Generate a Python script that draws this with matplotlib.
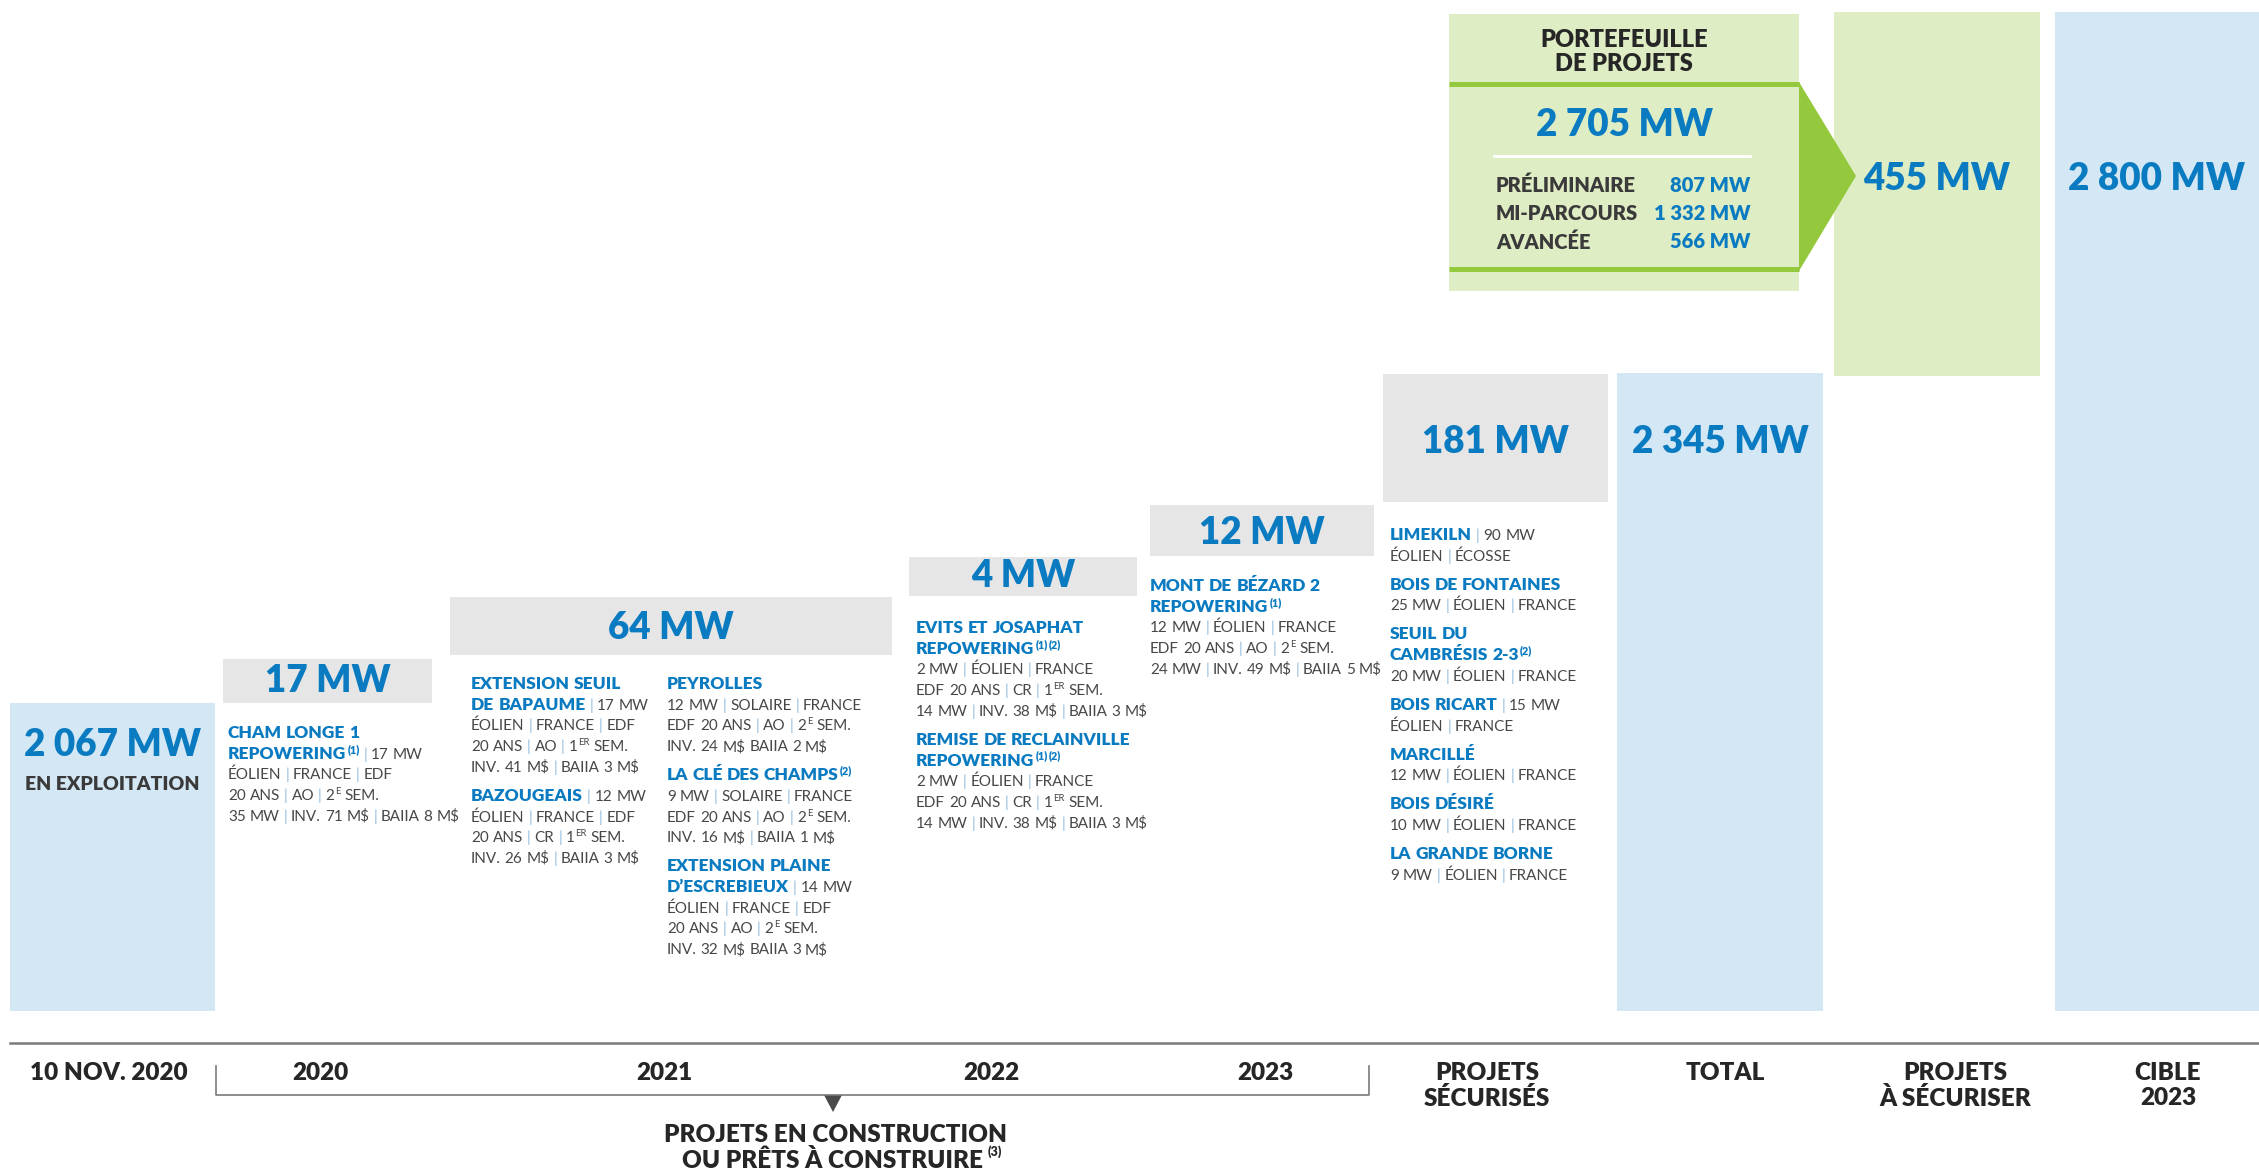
import numpy as np
import matplotlib
matplotlib.use('Agg')
import matplotlib.pyplot as plt
from matplotlib import font_manager
from matplotlib.patches import Rectangle, Polygon

W, H = 2259, 1171

# ---- data ----
timeline = ['10 NOV. 2020', '2020', '2021', '2022', '2023',
            'PROJETS\nSÉCURISÉS', 'TOTAL', 'PROJETS\nÀ SÉCURISER', 'CIBLE\n2023']
in_operation_mw = 2067
construction_mw = [17, 64, 4, 12]          # 2020, 2021, 2022, 2023
secured_mw = 181
to_secure_mw = 455
stages = ['PRÉLIMINAIRE', 'MI-PARCOURS', 'AVANCÉE']
stage_mw = [807, 1332, 566]

total_mw = in_operation_mw + sum(construction_mw) + secured_mw
target_mw = total_mw + to_secure_mw
portfolio_mw = sum(stage_mw)
box_values = [in_operation_mw] + construction_mw + [secured_mw, total_mw, to_secure_mw, target_mw]

# project lists: (blue title part, grey detail part), ^ marks superscript
proj_2020 = [[("CHAM LONGE 1", ""), ("REPOWERING^(1)", "| 17 MW"),
              ("", "ÉOLIEN | FRANCE | EDF"), ("", "20 ANS | AO | 2^E SEM."),
              ("", "35 MW | INV. 71 M$ | BAIIA 8 M$")]]
proj_2021a = [[("EXTENSION SEUIL", ""), ("DE BAPAUME", "| 17 MW"),
               ("", "ÉOLIEN | FRANCE | EDF"), ("", "20 ANS | AO | 1^ER SEM."),
               ("", "INV. 41 M$ | BAIIA 3 M$")],
              [("BAZOUGEAIS", "| 12 MW"), ("", "ÉOLIEN | FRANCE | EDF"),
               ("", "20 ANS | CR | 1^ER SEM."), ("", "INV. 26 M$ | BAIIA 3 M$")]]
proj_2021b = [[("PEYROLLES", ""), ("", "12 MW | SOLAIRE | FRANCE"),
               ("", "EDF 20 ANS | AO | 2^E SEM."), ("", "INV. 24 M$ BAIIA 2 M$")],
              [("LA CLÉ DES CHAMPS^(2)", ""), ("", "9 MW | SOLAIRE | FRANCE"),
               ("", "EDF 20 ANS | AO | 2^E SEM."), ("", "INV. 16 M$ | BAIIA 1 M$")],
              [("EXTENSION PLAINE", ""), ("D’ESCREBIEUX", "| 14 MW"),
               ("", "ÉOLIEN | FRANCE | EDF"), ("", "20 ANS | AO | 2^E SEM."),
               ("", "INV. 32 M$ BAIIA 3 M$")]]
proj_2022 = [[("EVITS ET JOSAPHAT", ""), ("REPOWERING^(1)^(2)", ""),
              ("", "2 MW | ÉOLIEN | FRANCE"), ("", "EDF  20 ANS | CR | 1^ER SEM."),
              ("", "14 MW | INV. 38 M$ | BAIIA 3 M$")],
             [("REMISE DE RECLAINVILLE", ""), ("REPOWERING^(1)^(2)", ""),
              ("", "2 MW | ÉOLIEN | FRANCE"), ("", "EDF  20 ANS | CR | 1^ER SEM."),
              ("", "14 MW | INV. 38 M$ | BAIIA 3 M$")]]
proj_2023 = [[("MONT DE BÉZARD 2", ""), ("REPOWERING^(1)", ""),
              ("", "12 MW | ÉOLIEN | FRANCE"), ("", "EDF 20 ANS | AO | 2^E SEM."),
              ("", "24 MW | INV. 49 M$ | BAIIA 5 M$")]]
proj_secured = [[("LIMEKILN", "| 90 MW"), ("", "ÉOLIEN | ÉCOSSE")],
                [("BOIS DE FONTAINES", ""), ("", "25 MW | ÉOLIEN | FRANCE")],
                [("SEUIL DU", ""), ("CAMBRÉSIS 2-3^(2)", ""), ("", "20 MW | ÉOLIEN | FRANCE")],
                [("BOIS RICART", "| 15 MW"), ("", "ÉOLIEN | FRANCE")],
                [("MARCILLÉ", ""), ("", "12 MW | ÉOLIEN | FRANCE")],
                [("BOIS DÉSIRÉ", ""), ("", "10 MW | ÉOLIEN | FRANCE")],
                [("LA GRANDE BORNE", ""), ("", "9 MW | ÉOLIEN | FRANCE")]]

# ---- layout (pixels) ----
box_x0 = [10, 223, 450, 909, 1150, 1383, 1617, 1834, 2055]
box_x1 = [215, 432, 892, 1137, 1374, 1608, 1823, 2040, 2259]
box_top = [703, 659, 597, 557, 505, 374, 373, 12, 12]
box_bot = [1011, 703, 655, 596, 556, 502, 1011, 376, 1011]
label_y = [745, 681, 628, 576, 533, 442, 442, 179, 179]
label_x = [109, 320, 664, 991, 1265, 1487, 1725, 1955, 2168]

BLUE = '#0A7BC1'
LBLUE = '#D3E7F4'
GBOX = '#E6E6E6'
LGREEN = '#DEEDC3'
GREEN = '#95C93D'
TGREY = '#474747'
DARK = '#262626'
PIPE = '#8DB8DA'
box_colors = [LBLUE, GBOX, GBOX, GBOX, GBOX, GBOX, LBLUE, LGREEN, LBLUE]

avail = {f.name for f in font_manager.fontManager.ttflist}
SANS = 'Lato' if 'Lato' in avail else 'DejaVu Sans'
COND = 'Liberation Sans Narrow' if 'Liberation Sans Narrow' in avail else SANS

fig = plt.figure(figsize=(W / 100, H / 100), dpi=100)
ax = fig.add_axes([0, 0, 1, 1])
ax.set_xlim(0, W)
ax.set_ylim(H, 0)
ax.axis('off')
rend = fig.canvas.get_renderer()

def fmt(v):
    return f"{v:,}".replace(',', ' ') + ' MW'

# value boxes
cx = [(a + b) / 2 for a, b in zip(box_x0, box_x1)]
wd = [b - a for a, b in zip(box_x0, box_x1)]
ht = [b - t for t, b in zip(box_top, box_bot)]
ax.bar(cx, ht, width=wd, bottom=box_top, color=box_colors, linewidth=0)

for i, v in enumerate(box_values):
    ax.text(cx[i], label_y[i], fmt(v), ha='center', va='center', family=SANS,
            weight='heavy', size=26.5, color=BLUE)
ax.text(cx[0], 784, 'EN EXPLOITATION', ha='center', va='center', family=SANS,
        weight='heavy', size=14, color='#3A3A3A')

# portfolio box
px0, px1, pt, pb = 1449, 1799, 14, 291
ax.add_patch(Rectangle((px0, pt), px1 - px0, pb - pt, color=LGREEN, lw=0))
ax.plot([px0, px1], [84, 84], color=GREEN, lw=3.6, solid_capstyle='butt')
ax.plot([px0, px1], [269, 269], color=GREEN, lw=3.6, solid_capstyle='butt')
ax.add_patch(Polygon([(px1, 82), (1856, 176), (px1, 271)], color=GREEN, lw=0))
pcx = (px0 + px1) / 2
ax.text(pcx, 40, 'PORTEFEUILLE', ha='center', va='center', family=COND, weight='heavy', size=17, color=DARK)
ax.text(pcx, 64, 'DE PROJETS', ha='center', va='center', family=COND, weight='heavy', size=17, color=DARK)
ax.text(pcx, 125, fmt(portfolio_mw), ha='center', va='center', family=SANS, weight='heavy', size=26.5, color=BLUE)
ax.plot([1494, 1750], [156, 156], color='white', lw=2)
for k, (s, v) in enumerate(zip(stages, stage_mw)):
    y = 185 + 28.5 * k
    ax.text(1496, y, s, ha='left', va='center', family=COND, weight='heavy', size=14.5, color='#3A3A3A')
    ax.text(1750, y, fmt(v), ha='right', va='center', family=COND, weight='heavy', size=14.5, color=BLUE)

# rich text helpers
STY = {'title': dict(family=SANS, weight='heavy', size=12.5, color=BLUE),
       'text': dict(family=SANS, size=11, color=TGREY),
       'pipe': dict(family=SANS, size=11, color=PIPE)}

def twidth(s, st):
    t = ax.text(0, 0, s, **STY[st])
    w = t.get_window_extent(renderer=rend).width
    t.remove()
    return w

SPACE = {k: twidth('I I', k) - twidth('II', k) for k in STY}

def words(x, y, s, st):
    for word in s.split(' '):
        if not word:
            continue
        style = 'pipe' if word == '|' else st
        for k, piece in enumerate(word.split('^')):
            if not piece:
                continue
            kw = dict(STY[style])
            dy = 0
            if k > 0:
                kw['size'] = STY[style]['size'] * 0.62
                dy = -6
                x += 1
            t = ax.text(x, y + dy, piece, ha='left', va='baseline', **kw)
            x += t.get_window_extent(renderer=rend).width
        x += SPACE[style]
    return x

def column(x, y0, projects, step=20.7, gap=29):
    y = y0
    for p in projects:
        for title, detail in p:
            xx = words(x, y + 6, title, 'title')
            words(xx, y + 6, detail, 'text')
            y += step
        y += gap - step

column(228, 732, proj_2020)
column(471, 683, proj_2021a)
column(667, 683, proj_2021b)
column(916, 627, proj_2022)
column(1150, 585, proj_2023)
column(1390, 534, proj_secured)

# timeline axis
ax.plot([10, W], [1043, 1043], color='#7A7A7A', lw=1.8)
for s, x in zip(timeline, label_x):
    for j, line in enumerate(s.split('\n')):
        ax.text(x, 1073 + 25 * j, line, ha='center', va='center', family=COND,
                weight='heavy', size=17.5, color=DARK)
ax.plot([216, 216, 1369, 1369], [1066, 1095, 1095, 1066], color='#7A7A7A', lw=1.2)
ax.add_patch(Polygon([(824, 1095), (842, 1095), (833, 1112)], color='#4A4A4A', lw=0))
ax.text(836, 1135, 'PROJETS EN CONSTRUCTION', ha='center', va='center', family=COND,
        weight='heavy', size=17.5, color=DARK)
t3 = ax.text(832, 1160, 'OU PRÊTS À CONSTRUIRE', ha='center', va='center', family=COND,
             weight='heavy', size=17.5, color=DARK)
bb = t3.get_window_extent(renderer=rend)
ax.text(bb.x1 + 5, 1152, '(3)', ha='left', va='center', family=COND, weight='heavy', size=9, color=DARK)

fig.savefig('out.png', dpi=100)
